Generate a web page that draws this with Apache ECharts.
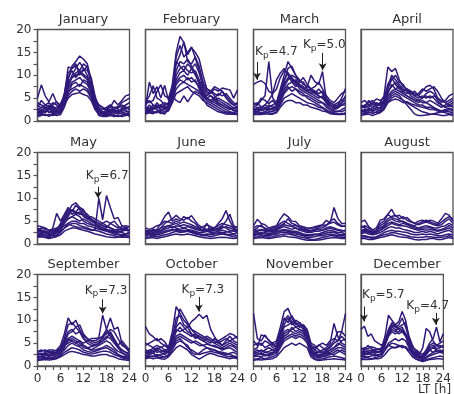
<!DOCTYPE html>
<html><head><meta charset="utf-8">
<script src="https://cdn.jsdelivr.net/npm/echarts@6/dist/echarts.min.js"></script>
<style>html,body{margin:0;padding:0;background:#fff}#c{width:454px;height:394px}</style>
</head><body><div id="c"></div>
<script>
const hours = [0,1,2,3,4,5,6,7,8,9,10,11,12,13,14,15,16,17,18,19,20,21,22,23,24];
const monthNames = ['January','February','March','April','May','June','July','August','September','October','November','December'];
const xTickLabels = [0,6,12,18,24];
const yTickLabels = [0,5,10,15,20];

const jan = [
[5.0,7.9,5.5,4.2,6.0,4.0,3.5,5.0,9.0,12.0,13.0,14.2,13.5,12.5,9.0,5.0,3.5,3.0,2.5,3.0,4.5,3.5,4.5,5.5,5.8],
[2.5,3.0,2.8,3.5,2.5,3.0,3.2,6.0,10.5,11.5,12.0,11.0,12.5,11.8,8.5,4.5,2.5,2.0,1.8,2.2,2.5,2.0,2.8,3.0,2.5],
[1.5,1.8,2.2,2.0,1.6,1.8,2.0,4.0,7.5,9.5,10.0,10.5,9.8,9.0,6.5,3.5,1.8,1.5,1.4,1.6,1.5,1.8,1.5,1.6,1.8],
[3.5,2.8,3.5,4.0,3.2,2.8,3.8,5.5,8.0,10.0,11.5,12.8,11.5,10.0,7.5,4.0,3.0,2.5,3.0,3.5,2.8,3.2,3.0,3.5,4.0],
[2.0,2.5,1.8,2.5,3.0,2.2,2.5,4.5,6.5,7.0,7.5,8.0,7.5,7.0,5.5,3.0,2.0,1.5,2.0,1.8,2.0,2.5,2.0,1.5,1.2],
[1.2,1.5,1.2,1.4,1.2,1.5,1.8,3.5,5.0,5.8,6.0,6.2,5.8,5.5,4.5,2.5,1.5,1.2,1.2,1.4,1.2,1.0,1.2,1.5,1.0],
[4.0,3.5,3.0,2.5,3.5,4.2,3.0,5.0,9.5,11.0,9.5,10.5,11.0,12.0,8.0,4.5,3.5,3.0,2.2,2.5,3.0,2.8,3.5,3.0,2.8],
[2.8,2.0,2.5,3.0,2.0,2.5,2.8,4.5,7.0,8.5,9.0,9.5,8.5,8.0,6.0,3.5,2.5,2.0,1.8,2.5,2.0,2.2,2.5,2.8,3.2],
[1.8,2.2,3.0,1.8,2.5,1.8,2.2,3.8,6.0,8.0,8.5,7.5,9.0,8.5,7.0,4.0,2.0,1.8,1.5,2.0,1.8,1.5,1.8,2.0,2.2],
[3.0,4.5,3.5,3.0,4.0,3.5,2.5,5.5,11.8,11.5,12.5,10.0,11.5,11.0,9.5,5.5,2.8,2.5,2.8,2.2,2.5,3.0,4.0,4.5,5.0],
[2.2,1.5,2.0,2.8,1.8,2.0,3.0,5.0,8.5,9.5,10.5,11.0,10.2,9.5,7.0,3.8,2.2,1.8,2.5,3.5,2.2,1.8,2.2,2.5,1.5],
[1.0,1.2,1.5,1.0,1.5,1.2,1.4,3.0,5.5,6.5,7.0,6.5,7.0,6.5,5.0,2.8,1.2,1.0,1.0,1.2,1.0,1.2,1.0,1.2,1.4]
];
const feb = [
[3.0,8.5,6.0,7.5,5.0,7.8,4.5,8.0,15.0,18.5,17.2,14.5,16.0,15.0,13.5,10.0,7.0,6.5,6.0,5.5,6.5,5.0,4.0,3.5,3.0],
[2.5,3.5,2.8,4.0,3.0,3.5,4.0,7.0,12.5,14.5,17.3,13.0,12.5,14.0,12.0,8.5,6.5,6.0,7.0,6.5,7.2,7.0,6.8,5.0,6.8],
[1.8,2.2,3.0,2.5,2.0,2.8,3.5,6.0,10.0,11.5,12.0,11.0,10.5,11.0,9.0,7.0,5.0,4.5,4.0,3.5,3.0,2.5,2.0,1.8,2.2],
[4.0,5.5,7.7,5.0,4.5,3.5,3.8,6.5,11.0,13.0,12.5,13.5,12.0,10.5,8.0,6.0,5.5,6.5,5.5,4.5,4.0,3.5,3.0,2.5,2.0],
[2.0,2.5,2.0,1.8,2.5,2.0,2.8,5.0,8.5,9.5,10.0,9.0,9.5,8.5,7.5,6.0,4.5,4.0,3.5,3.0,2.5,2.0,1.8,1.6,1.8],
[3.0,2.5,3.5,3.0,2.8,3.2,3.0,5.5,4.5,4.0,5.5,4.2,5.5,6.5,6.0,5.5,5.0,4.5,5.0,4.0,3.5,3.0,2.5,3.0,2.5],
[1.5,1.8,1.6,2.0,1.8,1.5,2.5,4.5,7.0,8.0,8.5,8.0,7.5,7.0,6.5,5.0,3.5,3.0,2.5,2.0,1.8,1.5,1.6,1.5,1.4],
[5.0,4.0,4.5,6.5,7.9,5.5,5.0,7.5,13.0,12.0,11.0,12.5,11.5,12.5,10.5,7.5,6.0,5.5,5.0,6.0,5.5,6.0,5.0,4.0,3.5],
[2.2,3.0,2.5,3.0,3.5,2.5,3.2,6.0,9.0,10.5,11.0,10.0,11.5,10.0,8.5,6.5,5.0,5.5,4.5,5.0,4.5,4.0,3.5,2.8,3.0],
[1.6,2.0,1.8,2.2,1.6,2.0,2.2,4.0,6.0,6.5,7.0,7.5,6.5,6.0,5.5,4.5,4.0,3.5,3.0,2.5,2.0,1.8,1.5,1.6,1.5],
[3.5,4.5,3.5,2.8,3.5,4.0,3.5,6.5,14.0,16.5,14.0,15.0,16.2,13.8,11.0,8.0,7.0,6.5,7.5,7.0,6.5,5.5,4.5,3.5,4.0],
[2.8,2.0,2.5,3.5,2.2,3.0,2.5,5.0,8.0,9.0,8.5,9.5,8.5,9.0,7.0,5.5,4.5,4.0,4.5,3.8,3.5,3.0,2.8,2.2,2.5]
];
const mar = [
[8.0,8.5,8.8,8.2,6.5,6.0,7.0,9.5,11.0,10.5,9.0,8.0,7.5,7.0,6.5,6.0,6.5,5.5,5.0,4.5,4.0,3.5,4.0,4.5,5.0],
[3.0,3.5,4.5,5.5,13.0,5.0,4.0,7.0,10.0,13.0,11.5,10.0,9.0,8.0,7.5,7.0,6.0,5.5,5.0,4.0,3.5,3.0,3.5,4.0,4.5],
[2.5,3.0,2.8,3.5,3.0,3.5,4.0,6.5,9.0,10.5,9.5,8.5,8.0,7.0,7.5,10.0,8.6,8.0,10.8,4.6,3.5,3.0,3.5,5.0,7.1],
[2.0,2.2,2.5,2.0,2.8,2.5,3.0,5.5,8.0,9.5,9.0,8.5,7.0,6.5,6.0,5.5,5.0,4.5,4.0,3.0,2.5,2.2,2.0,2.5,3.0],
[1.5,1.8,1.6,2.0,1.8,1.6,2.0,4.0,6.0,7.0,7.5,7.0,6.5,6.0,5.0,4.5,4.0,3.5,3.0,2.5,2.0,1.8,1.6,1.5,1.8],
[4.0,3.5,5.0,4.5,3.8,4.5,3.5,6.0,8.5,11.5,12.0,10.0,8.5,9.5,8.0,7.0,7.5,8.5,7.0,5.5,4.5,4.0,5.0,6.0,6.5],
[2.8,2.5,3.2,2.5,3.5,3.0,2.8,5.0,7.0,8.0,8.5,9.0,8.0,7.5,6.5,6.0,5.5,5.0,5.5,4.0,3.0,2.5,2.8,3.5,4.0],
[1.8,2.0,1.8,1.6,2.0,2.2,2.5,3.5,5.0,5.5,6.0,5.5,5.0,4.5,4.0,3.8,3.5,3.0,2.8,2.2,1.8,1.6,1.5,1.6,1.5],
[3.5,4.0,3.0,3.5,4.5,6.0,9.0,10.5,11.5,10.0,8.5,7.5,8.0,7.0,6.5,7.0,6.5,6.0,6.5,5.0,4.0,3.5,3.0,3.5,3.5],
[2.2,2.8,2.2,3.0,2.5,2.8,3.5,6.0,7.5,9.0,10.0,9.5,8.5,8.5,7.0,6.5,6.0,7.0,6.0,4.5,3.5,2.8,3.0,4.0,5.5],
[2.5,2.0,2.5,2.8,2.2,2.0,2.5,4.5,6.5,7.5,6.5,7.0,6.0,5.5,5.5,5.0,4.5,4.0,4.0,3.5,2.5,2.0,2.2,2.0,2.5],
[1.4,1.5,1.4,1.6,1.5,1.5,1.8,3.0,4.0,4.5,4.5,4.0,4.0,3.5,3.5,3.0,2.8,2.5,2.2,2.0,1.6,1.5,1.4,1.4,1.6]
];
const apr = [
[3.0,3.5,4.0,4.5,3.5,4.0,5.5,11.8,10.8,11.5,9.0,7.5,7.0,6.5,6.0,5.5,6.5,7.5,7.8,7.0,5.0,4.0,4.5,5.5,6.0],
[2.0,2.5,2.2,3.0,2.5,3.0,4.0,7.0,9.0,10.0,8.5,8.0,6.5,6.0,5.5,6.0,7.0,6.5,7.0,7.5,6.5,5.0,4.0,4.5,5.0],
[1.5,1.8,2.0,1.6,2.0,2.5,3.5,5.5,6.5,7.0,6.5,6.0,5.5,5.0,4.5,4.5,4.0,4.0,3.5,3.0,2.5,2.0,1.8,1.6,1.5],
[3.5,3.0,4.5,3.5,4.0,3.5,4.5,6.5,7.5,8.5,7.5,6.5,6.0,6.5,5.5,5.0,5.5,5.0,5.5,5.0,4.0,3.5,3.0,3.5,3.0],
[1.2,1.4,1.5,1.2,1.5,1.8,2.5,4.0,5.0,5.5,5.0,4.5,4.0,3.5,3.0,2.5,2.0,1.8,1.5,1.5,1.4,1.2,1.2,1.4,1.2],
[2.5,2.2,2.8,2.5,3.0,2.8,3.5,5.0,6.0,6.5,6.0,5.5,5.0,4.5,4.0,3.5,3.5,3.0,3.0,2.8,2.5,2.2,2.5,2.8,2.5],
[2.8,3.2,3.0,3.8,3.2,3.5,4.0,6.0,8.0,7.0,7.5,6.0,5.5,5.0,4.5,4.0,4.5,4.0,4.5,4.0,3.5,3.0,3.5,4.0,4.5],
[1.8,1.6,1.8,2.0,1.8,2.0,3.0,4.5,5.5,6.0,5.5,4.5,3.5,2.5,1.5,1.2,1.2,1.3,1.4,1.6,1.8,2.0,2.2,2.0,1.8],
[4.0,4.5,3.5,4.0,4.8,4.5,5.0,8.0,9.5,8.0,7.0,6.5,7.0,6.0,6.5,5.5,5.0,5.5,5.0,5.5,5.0,4.5,4.0,3.5,4.0],
[2.2,2.0,2.5,2.2,2.5,2.2,2.8,4.0,4.5,4.8,4.5,4.0,4.2,3.8,3.5,3.2,3.0,2.8,2.5,2.5,2.2,2.0,2.2,2.5,2.2],
[3.2,2.8,3.5,3.0,3.5,3.8,4.5,7.5,10.0,9.0,8.0,7.0,6.5,5.5,5.0,4.5,5.0,6.0,6.5,6.0,4.5,3.5,3.0,3.2,3.5]
];
const may = [
[2.5,2.8,2.5,2.2,2.5,3.0,3.5,4.0,4.5,4.0,3.8,3.5,3.5,3.2,3.0,3.0,10.0,5.3,10.6,8.0,5.5,5.8,4.0,3.5,3.0],
[3.5,3.0,2.8,2.5,3.5,6.7,5.0,6.5,8.0,7.0,8.5,7.5,6.5,6.0,5.5,5.0,4.5,4.0,3.8,3.5,3.0,3.2,3.0,3.5,3.8],
[2.0,2.2,1.8,1.6,2.0,2.5,3.5,5.5,7.0,8.5,9.0,8.0,7.0,6.5,5.5,4.5,4.0,3.5,3.0,2.8,2.5,2.2,2.0,2.2,2.5],
[1.5,1.6,1.5,1.4,1.5,1.8,2.5,3.5,4.0,4.5,4.5,4.0,3.8,3.5,3.2,3.0,2.8,2.5,2.2,2.0,1.8,1.6,1.5,1.5,1.6],
[3.0,3.5,3.2,3.0,2.8,3.0,4.5,6.0,7.5,6.5,7.0,8.0,7.5,6.0,5.0,4.5,4.0,4.5,4.0,3.5,3.2,3.0,3.5,3.2,3.0],
[2.5,2.2,2.5,2.0,2.2,2.5,3.0,4.5,5.5,6.0,5.5,5.0,5.5,5.0,4.5,4.0,3.5,3.2,3.0,2.8,2.5,2.8,2.5,2.2,2.5],
[4.0,3.8,3.5,3.0,3.2,3.5,4.0,5.0,6.0,7.5,6.5,7.0,6.0,5.5,6.0,5.5,5.0,4.5,5.0,4.5,4.0,3.5,3.8,4.0,3.8],
[1.8,2.0,2.0,1.8,1.8,2.0,2.8,3.5,4.5,5.0,5.0,4.5,4.5,4.0,3.8,3.5,3.2,3.0,2.8,2.5,2.2,2.0,1.8,1.8,2.0],
[2.8,3.0,2.5,2.2,2.5,2.8,3.5,5.0,6.5,7.5,7.0,6.5,6.5,5.5,5.0,4.8,4.5,4.0,3.5,4.5,5.0,4.0,3.2,3.0,2.8],
[3.2,2.5,2.8,2.6,3.0,3.2,4.0,5.5,5.5,6.0,6.5,6.0,5.0,4.5,4.2,4.0,3.8,3.5,3.2,3.0,2.8,2.5,2.8,3.0,3.2],
[1.6,1.8,1.4,1.2,1.4,1.6,2.0,2.8,3.2,3.5,3.5,3.2,3.0,2.8,2.5,2.2,2.0,1.8,1.6,1.5,1.4,1.5,1.6,1.5,1.4]
];
const jun = [
[2.5,3.0,2.8,3.2,4.5,6.0,7.0,5.0,5.5,5.0,6.0,5.5,6.2,5.0,4.0,3.5,3.2,3.0,3.5,4.5,5.5,7.3,5.0,3.5,3.0],
[2.0,2.2,2.5,2.8,3.5,4.5,5.0,5.5,6.3,5.5,5.2,5.8,5.0,4.5,3.5,3.0,4.5,3.0,3.2,3.5,4.0,5.0,6.5,4.0,3.5],
[1.5,1.6,1.8,1.6,1.8,2.0,2.2,2.5,2.8,2.5,2.6,2.8,2.5,2.2,2.0,1.8,1.8,1.6,1.8,2.0,2.2,2.0,1.8,1.6,1.5],
[3.0,2.8,3.2,3.0,3.5,3.8,4.0,4.2,4.5,4.0,4.2,4.0,3.8,3.5,3.2,3.0,3.2,3.5,3.2,3.0,3.5,3.8,3.5,3.2,3.0],
[1.2,1.3,1.4,1.2,1.4,1.6,1.8,2.0,2.2,2.0,2.0,2.2,2.0,1.8,1.6,1.4,1.3,1.2,1.3,1.4,1.5,1.4,1.3,1.2,1.3],
[2.2,2.5,2.2,2.5,2.8,3.2,3.5,3.8,3.5,3.2,3.5,3.2,3.0,2.8,2.5,2.5,2.8,2.5,2.6,2.8,3.0,2.8,2.5,2.2,2.5],
[3.5,3.2,3.5,4.0,4.2,5.0,4.8,4.5,5.0,4.5,4.8,4.5,4.2,3.8,3.5,3.8,4.2,3.8,3.5,4.0,4.5,4.2,4.0,3.5,3.8],
[1.8,2.0,1.8,2.0,2.2,2.5,2.8,3.0,3.2,3.0,2.8,3.0,2.8,2.5,2.2,2.0,2.2,2.0,2.2,2.5,2.5,2.2,2.0,2.0,1.8],
[2.8,2.5,3.0,2.6,3.0,3.5,4.0,3.5,4.0,3.8,3.5,3.8,3.5,3.2,3.0,2.8,3.0,2.8,3.0,3.2,3.8,3.5,3.0,2.8,2.6],
[2.5,2.2,2.0,2.2,2.5,2.8,3.0,3.2,3.0,2.8,3.0,2.8,2.6,2.4,2.2,2.0,2.0,2.2,2.4,2.2,2.4,2.6,2.8,3.0,2.8]
];
const jul = [
[4.0,5.4,4.5,4.2,3.5,3.8,4.0,5.5,6.6,6.0,5.0,4.9,4.0,3.8,3.5,3.5,3.8,4.0,4.2,5.2,4.5,8.0,5.6,4.5,4.5],
[3.0,3.5,4.2,3.2,3.0,3.2,3.5,4.0,4.5,5.5,4.5,4.2,3.5,3.2,3.0,3.0,3.2,3.5,3.5,4.0,5.0,5.5,4.5,4.0,3.8],
[2.0,2.2,2.5,2.2,2.0,2.2,2.5,3.0,3.2,3.0,2.8,2.8,2.5,2.2,2.0,2.0,2.2,2.2,2.5,2.8,3.0,2.8,2.5,2.5,2.2],
[1.5,1.6,1.8,1.6,1.5,1.6,1.8,2.0,2.2,2.2,2.0,1.8,1.6,1.4,1.2,1.0,1.0,1.2,1.4,1.6,1.8,1.8,1.6,1.5,1.5],
[2.5,2.8,3.0,2.8,2.6,2.8,3.0,3.5,3.8,3.5,3.2,3.5,3.2,3.0,2.8,2.8,3.0,3.2,3.0,3.5,3.8,3.5,3.2,3.0,2.8],
[3.5,4.0,3.8,3.5,3.2,3.5,3.8,4.5,5.0,4.5,4.0,4.0,3.8,3.5,3.2,3.5,3.5,3.8,4.0,4.2,4.5,4.8,4.2,3.8,4.0],
[1.2,1.3,1.4,1.3,1.2,1.3,1.5,1.6,1.8,1.6,1.5,1.4,1.2,1.0,0.8,0.8,0.8,0.9,1.0,1.2,1.3,1.4,1.3,1.2,1.2],
[2.2,2.5,2.2,2.5,2.2,2.5,2.8,2.8,3.0,2.8,2.5,2.5,2.2,2.0,1.8,1.8,2.0,2.0,2.2,2.4,2.6,2.5,2.2,2.0,2.2],
[2.8,3.0,3.2,3.0,2.8,3.0,3.2,3.8,4.2,4.0,3.8,3.5,3.0,2.8,2.5,2.5,2.8,2.8,3.0,3.2,3.5,3.2,3.0,2.8,3.0],
[1.8,2.0,2.0,1.8,1.8,2.0,2.2,2.5,2.6,2.5,2.2,2.2,2.0,1.8,1.5,1.5,1.6,1.8,1.8,2.0,2.2,2.0,1.8,1.8,1.8]
];
const aug = [
[4.9,5.2,3.8,3.1,3.5,5.2,5.5,6.5,7.6,6.0,6.3,5.5,5.8,5.0,4.5,5.0,5.2,4.8,5.2,5.0,4.5,5.5,6.7,6.3,5.0],
[3.5,4.0,3.5,2.8,3.0,4.0,4.5,5.5,6.0,6.3,5.5,6.0,5.2,4.8,4.5,4.2,4.5,4.8,4.5,4.2,4.0,4.2,5.0,5.5,4.5],
[2.5,2.8,2.5,2.2,2.5,3.0,3.5,4.0,4.5,4.2,4.0,4.0,3.8,3.5,3.2,3.0,3.2,3.0,3.2,3.0,2.8,3.0,3.2,3.5,3.0],
[1.8,1.8,1.6,1.5,1.6,2.0,2.5,2.8,3.0,2.8,2.8,2.6,2.5,2.2,2.0,2.0,2.2,2.0,2.2,2.0,1.8,1.8,2.0,2.2,2.0],
[1.2,1.2,1.0,1.0,1.2,1.4,1.6,1.8,2.0,1.8,1.6,1.5,1.4,1.2,1.0,0.9,1.0,1.0,1.2,1.2,1.0,1.0,1.2,1.4,1.2],
[3.0,3.2,3.0,2.5,2.8,3.5,4.0,5.0,5.5,5.0,4.8,5.0,4.5,4.0,3.8,3.5,3.8,4.0,3.8,3.5,3.5,3.8,4.0,4.5,4.0],
[2.2,2.5,2.2,2.0,2.2,2.5,3.0,3.5,3.8,3.5,3.5,3.2,3.0,2.8,2.5,2.5,2.8,2.5,2.8,2.5,2.2,2.5,2.8,3.0,2.5],
[4.0,3.5,3.0,2.5,3.0,4.5,5.0,6.5,5.8,5.5,5.2,4.8,4.5,4.2,4.0,4.5,4.8,5.2,4.8,4.5,4.2,4.8,5.5,6.0,5.5],
[1.5,1.6,1.4,1.2,1.4,1.8,2.0,2.2,2.5,2.4,2.2,2.0,1.8,1.6,1.5,1.4,1.5,1.6,1.6,1.5,1.4,1.5,1.6,1.8,1.6],
[2.8,3.0,2.8,2.5,2.5,3.0,3.8,4.5,4.8,4.5,4.2,4.5,4.2,3.8,3.5,3.2,3.5,3.5,3.6,3.2,3.0,3.2,3.5,4.0,3.5]
];
const sep = [
[2.5,2.8,2.5,3.0,2.8,3.0,3.5,5.0,6.0,5.5,5.0,5.5,5.0,5.5,6.0,6.0,6.2,11.1,8.0,10.5,8.0,8.5,5.0,4.0,3.0],
[3.0,3.2,3.5,3.0,3.2,3.5,4.5,7.0,10.5,9.0,10.0,8.0,6.5,6.0,5.5,5.0,5.5,6.0,7.5,6.5,5.5,4.5,3.5,3.0,2.5],
[2.0,2.2,2.5,2.2,2.5,2.8,3.5,6.0,9.0,9.5,8.5,7.5,6.0,5.0,4.5,4.5,5.0,6.5,8.0,7.0,5.5,4.0,3.0,2.5,2.2],
[1.5,1.6,1.8,1.6,1.5,1.8,2.5,4.0,6.0,6.5,6.0,5.5,4.5,4.0,3.5,3.5,3.8,4.0,4.5,4.0,3.5,2.5,2.0,1.8,1.6],
[2.8,2.5,3.0,3.2,2.8,3.0,4.0,5.5,7.5,8.0,7.0,7.5,6.0,5.5,5.0,4.5,5.0,5.5,6.0,7.5,6.0,4.5,5.5,4.5,3.5],
[1.2,1.3,1.4,1.3,1.4,1.6,2.0,2.5,3.0,3.2,3.0,2.8,2.5,2.4,2.2,2.2,2.4,2.5,2.5,2.2,2.0,1.6,1.4,1.3,1.2],
[2.2,2.0,2.2,2.5,2.2,2.5,3.0,4.5,5.5,6.0,5.5,5.0,4.0,3.8,3.5,4.0,4.5,5.0,5.5,5.0,4.0,3.2,2.8,2.4,2.0],
[3.2,3.5,3.2,3.5,3.5,3.2,3.8,5.0,7.0,7.5,8.5,9.0,7.0,6.0,5.5,5.5,6.0,6.5,7.0,8.0,7.5,6.0,4.5,4.0,3.5],
[1.8,2.0,1.8,2.0,1.8,2.2,2.8,3.5,4.5,5.0,4.5,4.2,3.5,3.2,3.0,3.2,3.5,3.8,4.0,3.5,3.0,2.5,2.2,2.0,1.8],
[2.5,2.6,2.8,2.5,3.0,2.8,3.2,4.5,5.0,5.5,5.0,4.5,4.5,4.0,4.2,4.5,4.8,5.5,6.5,6.0,5.0,4.0,3.5,3.0,2.8],
[1.5,1.5,1.6,1.8,1.6,1.8,2.2,3.0,3.5,4.0,3.8,3.5,3.0,2.8,2.6,2.8,3.0,3.2,3.2,3.0,2.5,2.2,1.8,1.6,1.5]
];
const oct = [
[3.0,3.5,3.2,4.0,3.5,3.0,4.0,6.5,8.0,7.5,8.0,8.5,9.7,10.4,11.3,10.4,11.1,8.0,6.4,5.0,4.5,5.0,5.5,5.0,4.5],
[8.6,7.0,6.4,5.5,6.0,5.3,4.0,7.5,13.0,11.5,10.0,9.0,8.0,7.5,7.0,6.5,6.0,5.5,5.0,5.5,6.0,6.5,7.1,6.8,6.0],
[2.5,3.0,2.8,3.5,3.0,2.5,3.2,6.0,10.5,11.0,9.0,8.5,7.0,6.5,6.0,5.5,5.0,4.5,4.5,4.0,3.5,3.8,4.0,3.5,3.0],
[4.5,5.0,5.5,6.0,5.0,4.5,3.8,5.5,8.5,9.5,8.5,7.5,7.0,6.0,6.5,6.0,5.5,5.0,6.0,5.5,4.5,5.5,6.5,5.5,5.0],
[2.0,2.2,2.0,2.5,2.2,2.0,2.5,4.5,6.5,7.0,6.5,6.0,5.5,5.0,4.5,4.5,4.0,3.5,3.5,3.2,3.0,2.8,2.5,2.2,2.0],
[1.6,1.8,1.6,1.8,1.6,1.5,2.0,3.0,4.0,4.5,4.0,3.5,2.5,2.0,1.5,2.0,2.5,2.8,2.5,2.2,2.0,1.8,1.6,1.8,1.6],
[3.5,3.2,4.0,3.5,4.2,3.5,3.5,5.0,7.5,8.5,7.5,7.0,6.5,7.0,6.0,5.5,6.0,5.5,5.0,4.5,4.0,4.5,5.0,4.5,4.0],
[2.2,2.5,2.8,2.2,2.5,2.8,3.0,4.0,5.5,6.0,5.0,4.5,3.0,2.5,2.8,3.5,4.0,3.8,3.5,3.0,2.8,2.5,2.8,3.0,2.5],
[5.0,4.5,4.0,4.5,4.0,4.5,4.0,6.0,9.0,12.5,11.0,9.5,8.0,7.0,6.5,6.0,6.5,6.0,5.5,5.0,5.5,6.0,5.5,6.0,6.5],
[1.8,2.0,2.2,2.0,1.8,2.0,2.2,3.5,5.0,5.5,5.0,4.0,3.5,3.0,2.5,2.8,3.0,3.2,3.0,2.8,2.5,2.2,2.0,2.0,1.8],
[3.0,2.8,3.5,3.0,3.2,3.5,3.0,4.5,6.0,6.5,6.0,5.5,5.0,5.5,5.0,4.5,4.8,4.5,4.2,4.0,3.8,4.0,4.5,4.2,3.5]
];
const nov = [
[11.5,6.0,5.5,6.8,5.5,5.0,5.5,8.5,11.9,12.6,10.5,9.0,9.5,8.5,7.0,4.5,4.0,4.5,5.0,4.5,5.5,6.0,5.5,7.5,11.5],
[3.5,4.0,6.8,6.5,5.7,4.5,5.0,7.5,10.0,11.0,9.7,9.5,8.5,9.0,7.5,4.0,3.5,3.0,3.5,4.0,5.0,9.3,6.4,5.0,4.5],
[2.5,3.0,3.5,3.0,3.2,3.5,4.0,6.0,8.5,9.0,9.5,8.5,9.0,8.0,6.5,3.5,2.5,2.2,2.5,3.0,3.5,4.0,4.5,5.5,6.0],
[2.0,2.2,2.0,2.5,2.2,2.5,3.0,5.0,7.0,7.5,8.0,8.5,8.0,7.5,6.0,3.0,2.0,1.8,2.0,2.2,2.5,3.0,3.5,3.0,2.5],
[4.5,5.0,4.5,5.5,5.0,4.0,4.5,6.5,9.0,10.5,9.0,10.0,9.5,8.5,7.0,4.5,3.5,4.6,4.0,3.5,4.0,5.0,5.5,6.5,5.5],
[1.5,1.6,1.8,1.6,1.8,2.0,2.5,4.0,5.5,6.0,6.5,6.0,6.5,6.0,5.0,2.5,1.6,1.5,1.6,1.8,2.0,2.2,2.0,1.8,1.6],
[3.0,3.5,3.0,3.5,4.0,3.5,3.5,5.5,7.5,8.0,7.5,7.0,7.5,7.0,6.0,3.5,3.0,3.0,2.8,3.2,3.5,4.0,5.0,4.5,4.0],
[2.2,2.5,2.8,2.2,2.5,2.8,3.2,4.5,6.0,6.5,7.0,6.5,7.0,6.5,5.5,3.0,2.2,2.0,2.2,2.5,2.8,2.5,3.0,3.5,3.0],
[1.2,1.4,1.3,1.4,1.5,1.6,2.0,3.0,4.0,4.5,5.0,4.5,5.0,4.5,4.0,2.0,1.4,1.2,1.3,1.4,1.5,1.6,1.5,1.4,1.3],
[5.5,4.5,5.0,4.0,4.5,5.0,4.0,7.0,10.5,9.5,11.0,9.5,8.5,9.0,8.0,5.0,4.5,3.5,3.0,3.5,4.5,5.5,7.5,7.5,6.5],
[2.8,3.0,2.5,3.0,2.8,3.0,3.5,5.0,6.5,7.0,8.5,7.5,8.0,7.5,6.5,3.8,2.8,2.5,2.5,2.8,3.0,3.5,4.0,4.0,3.5]
];
const dec = [
[8.0,8.7,6.5,7.0,5.5,5.0,4.5,5.5,7.5,9.0,8.5,8.0,7.5,7.0,5.5,4.0,3.5,3.0,2.5,3.0,3.5,3.0,3.5,3.0,3.5],
[3.0,3.2,3.0,2.8,3.2,3.0,3.5,5.0,7.5,8.5,9.0,8.0,8.5,7.0,5.0,3.5,2.5,2.0,2.5,3.5,5.0,6.0,8.5,5.3,7.1],
[3.5,4.0,3.8,4.2,4.0,3.5,4.0,6.5,11.1,10.0,9.0,9.7,11.9,10.0,5.7,4.0,3.5,2.5,2.0,3.0,4.5,5.0,4.5,4.5,4.0],
[2.5,2.8,2.5,3.0,2.8,3.0,3.2,5.5,8.0,9.5,8.5,9.0,10.5,8.5,6.0,3.5,2.5,2.0,1.8,2.5,3.5,4.0,4.5,5.0,5.5],
[2.0,2.2,2.0,2.2,2.5,2.2,2.8,4.5,6.5,7.5,7.0,7.5,8.0,7.0,5.0,3.0,2.0,1.6,1.4,1.8,2.2,2.5,2.8,3.0,2.8],
[3.0,3.5,3.5,3.2,3.5,3.8,3.5,4.0,4.5,4.2,4.0,4.5,4.2,4.0,3.5,3.0,2.5,2.2,2.0,2.5,3.5,4.0,3.5,3.2,3.0],
[1.6,1.8,1.8,1.6,1.8,2.0,2.2,3.5,5.0,5.5,6.0,5.5,6.0,5.5,4.0,2.5,1.6,1.3,1.2,1.4,1.6,1.8,2.0,2.2,2.0],
[4.0,3.5,4.5,3.8,3.5,3.0,3.5,5.0,6.5,8.0,7.5,8.5,9.0,9.5,6.5,4.5,3.0,2.5,4.0,8.2,7.5,5.5,4.5,4.0,4.5],
[2.2,2.5,2.8,2.5,2.2,2.5,2.5,3.5,4.5,5.0,4.8,4.5,4.0,4.2,3.5,2.8,2.2,1.8,1.6,2.0,2.5,3.0,3.2,3.5,3.2],
[1.4,1.5,1.4,1.5,1.6,1.6,1.8,2.5,3.5,4.0,4.0,4.2,4.5,4.0,3.0,2.0,1.5,1.2,1.0,1.2,1.4,1.5,1.6,1.6,1.5],
[2.8,3.0,3.2,3.5,3.0,3.2,3.0,4.8,7.0,8.5,8.0,7.0,7.5,6.5,4.5,3.2,2.8,2.2,2.0,2.8,4.0,4.5,3.8,4.0,4.5]
];
const months = [jan,feb,mar,apr,may,jun,jul,aug,sep,oct,nov,dec];

// Kp annotations: month index and Kp value
const kpMonths = [2,2,4,8,9,11,11];
const kpValues = ['4.7','5.0','6.7','7.3','7.3','5.7','4.7'];

months.forEach((m,i)=>m.forEach((a,j)=>{ if(a.length!==hours.length) throw new Error('bad length '+monthNames[i]+' line '+j+': '+a.length); }));

// layout
const FONT = 'DejaVu Sans';
const LINE = '#2f1a7a';
const AX = '#555';
const colLeft = [37.5,145.5,253.5,361];
const rowTop = [29.5,152.5,274.5];
const W = 92, H = 91.5;
// annotation placement: [text hour, text value, arrow hour, arrow from, arrow to]
const kpPlace = [[0.4,15.1,0.9,12.9,9.0],[12.9,16.6,18.05,14.9,11.1],[12.6,14.9,15.8,12.5,10.0],
  [12.3,16.5,17.0,14.6,11.5],[9.4,16.6,13.9,15.1,11.9],[0.3,15.5,0.86,13.0,9.7],[13.2,13.1,21.8,11.6,9.0]];

const grid=[], xAxis=[], yAxis=[], series=[], title=[];
months.forEach((lines,i)=>{
  const row=Math.floor(i/4), col=i%4;
  grid.push({left:colLeft[col], top:rowTop[row], width:W, height:H, show:true, borderColor:AX, borderWidth:1.3, backgroundColor:'transparent'});
  xAxis.push({gridIndex:i, type:'value', min:0, max:24, interval:2,
    axisLine:{show:true, lineStyle:{color:AX, width:1.3}},
    axisTick:{show:row===2, length:4, lineStyle:{color:AX, width:1.2}},
    axisLabel:{show:row===2, margin:7, fontSize:12, color:'#333', fontFamily:FONT, formatter:v=>xTickLabels.includes(v)?String(v):''},
    splitLine:{show:false}});
  yAxis.push({gridIndex:i, type:'value', min:0, max:20, interval:2.5,
    axisLine:{show:true, lineStyle:{color:AX, width:1.3}},
    axisTick:{show:col===0, length:4, lineStyle:{color:AX, width:1.2}},
    axisLabel:{show:col===0, margin:6, fontSize:12, color:'#333', fontFamily:FONT, formatter:v=>yTickLabels.includes(v)?String(v):''},
    splitLine:{show:false}});
  title.push({text:monthNames[i], left:colLeft[col]+W/2, top:rowTop[row]-16, textAlign:'center', padding:0,
    textStyle:{fontSize:13, fontWeight:'normal', color:'#333', fontFamily:FONT}});
  const notes = [];
  kpMonths.forEach((mi,k)=>{ if(mi===i) notes.push({kp:kpValues[k], p:kpPlace[k]}); });
  lines.forEach((arr,j)=>{
    const s = {type:'line', xAxisIndex:i, yAxisIndex:i, data:hours.map((h,k)=>[h,arr[k]]),
      symbol:'none', silent:true, animation:false, lineStyle:{width:1.5, color:LINE}, itemStyle:{color:LINE}};
    if(j===0 && notes.length){
      s.markLine = {silent:true, animation:false, symbol:['none','arrow'], symbolSize:[6,7], label:{show:false},
        lineStyle:{color:'#222', width:1, type:'solid'},
        data: notes.map(n=>[{coord:[n.p[2],n.p[3]]},{coord:[n.p[2],n.p[4]]}])};
      s.markPoint = {silent:true, animation:false, symbol:'circle', symbolSize:0, itemStyle:{color:'transparent'},
        data: notes.map(n=>({coord:[n.p[0],n.p[1]], value:n.kp,
          label:{show:true, position:'right', distance:0, formatter:'{k|K}{s|p}{t|='+n.kp+'}',
            rich:{k:{fontSize:12,color:'#333',fontFamily:FONT}, s:{fontSize:9,color:'#333',fontFamily:FONT,padding:[7,0,0,0]}, t:{fontSize:12,color:'#333',fontFamily:FONT}}}}))};
    }
    series.push(s);
  });
});

const chart = echarts.init(document.getElementById('c'), null, {renderer:'canvas'});
chart.setOption({
  animation:false, backgroundColor:'#fff', title, grid, xAxis, yAxis, series,
  graphic:[{type:'text', left:418, top:384, style:{text:'LT [h]', fontSize:12, fill:'#333', fontFamily:FONT}}]
});
</script></body></html>
